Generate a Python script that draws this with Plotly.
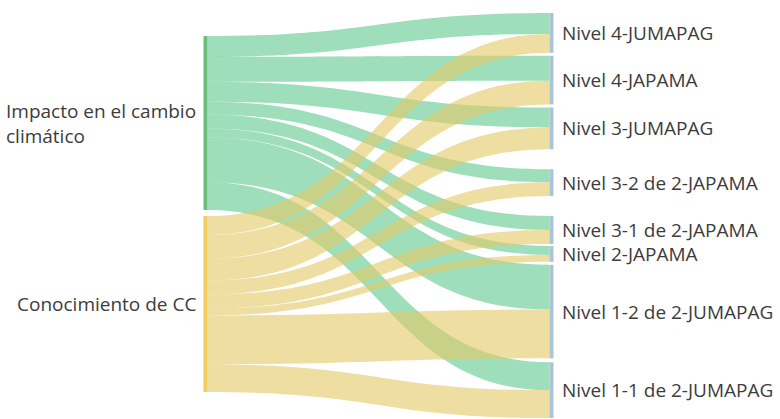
import plotly.graph_objects as go

# ---- data ----
sources = ["Impacto en el cambio climático", "Conocimiento de CC"]
source_labels = ["Impacto en el cambio<br>climático", "Conocimiento de CC"]
targets = [
    "Nivel 4-JUMAPAG",
    "Nivel 4-JAPAMA",
    "Nivel 3-JUMAPAG",
    "Nivel 3-2 de 2-JAPAMA",
    "Nivel 3-1 de 2-JAPAMA",
    "Nivel 2-JAPAMA",
    "Nivel 1-2 de 2-JUMAPAG",
    "Nivel 1-1 de 2-JUMAPAG",
]
impacto = [21, 25, 20, 13, 14, 9, 45, 28]
conocimiento = [19, 24, 22, 14, 14, 7, 49, 28]

# ---- layout constants ----
W, H = 780, 419
M_T, M_B = 13, 0
PLOT_H = H - M_T - M_B
PAD = 8
THICK = 4
SRC_X_PX, TGT_X_PX = 205.5, 551.5
SRC_TOP_PX, SRC_GAP_PX = 23, 6
TGT_GAPS_PX = [3, 3, 20, 20, 2, 3, 4]

series = [impacto, conocimiento]
tgt_tot = [a + b for a, b in zip(impacto, conocimiento)]
src_tot = [sum(s) for s in series]
ky = min((PLOT_H - (len(targets) - 1) * PAD) / sum(tgt_tot),
         (PLOT_H - (len(sources) - 1) * PAD) / sum(src_tot))

# node centres (px from top of plot area), derived from values
src_centers = []
cur = SRC_TOP_PX
for t in src_tot:
    h = t * ky
    src_centers.append(cur + h / 2)
    cur += h + SRC_GAP_PX
tgt_centers = []
cur = 0
for i, t in enumerate(tgt_tot):
    h = t * ky
    tgt_centers.append(cur + h / 2)
    cur += h + (TGT_GAPS_PX[i] if i < len(TGT_GAPS_PX) else 0)

node_x = [SRC_X_PX / W] * len(sources) + [TGT_X_PX / W] * len(targets)
node_y = [c / PLOT_H for c in src_centers + tgt_centers]

src_node_colors = ["#6cbf7a", "#f2cc5e"]
tgt_node_color = "#aac6d6"
link_colors = ["rgba(88,198,138,0.58)", "rgba(226,200,100,0.60)"]

link_s, link_t, link_v, link_c = [], [], [], []
for si, vals in enumerate(series):
    for ti, v in enumerate(vals):
        link_s.append(si)
        link_t.append(len(sources) + ti)
        link_v.append(v)
        link_c.append(link_colors[si])

fig = go.Figure(go.Sankey(
    arrangement="fixed",
    domain=dict(x=[0, 1], y=[0, 1]),
    node=dict(
        label=[""] * (len(sources) + len(targets)),
        customdata=sources + targets,
        hovertemplate="%{customdata}: %{value}<extra></extra>",
        x=node_x,
        y=node_y,
        pad=PAD,
        thickness=THICK,
        color=src_node_colors + [tgt_node_color] * len(targets),
        line=dict(width=0),
    ),
    link=dict(source=link_s, target=link_t, value=link_v, color=link_c),
))

FONT = dict(family="Open Sans, Noto Sans, sans-serif", size=19, color="#3c3c3c")
ann = []
for lab, c in zip(source_labels, src_centers):
    ann.append(dict(x=SRC_X_PX / W, y=1 - c / PLOT_H, xref="paper", yref="paper",
                    text=lab, showarrow=False, xanchor="right", yanchor="middle",
                    align="left", xshift=-8, font=FONT))
for lab, c in zip(targets, tgt_centers):
    ann.append(dict(x=TGT_X_PX / W, y=1 - c / PLOT_H, xref="paper", yref="paper",
                    text=lab, showarrow=False, xanchor="left", yanchor="middle",
                    align="left", xshift=8, font=FONT))

fig.update_layout(
    width=W, height=H,
    margin=dict(l=0, r=0, t=M_T, b=M_B),
    paper_bgcolor="white",
    annotations=ann,
    font=FONT,
)

fig.write_html("out.html",
               config={"displayModeBar": False},
               post_script="document.body.style.margin='0';document.body.style.overflow='hidden';")
